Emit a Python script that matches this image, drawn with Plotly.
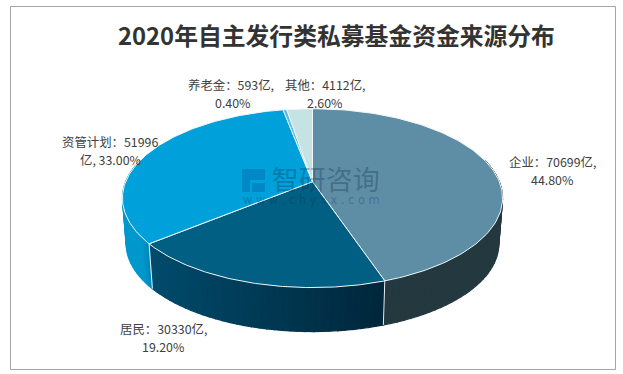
import numpy as np
import plotly.graph_objects as go

# Data
categories = ["企业", "居民", "资管计划", "养老金", "其他"]
values = [70699, 30330, 51996, 593, 4112]
percents = ["44.80%", "19.20%", "33.00%", "0.40%", "2.60%"]
title = "2020年自主发行类私募基金资金来源分布"

# Styles
top_colors = ["#5E8DA6", "#005F82", "#00A0DA", "#55BDE8", "#C5E3E2"]
side_left = ["#24393F", "#004B6C", "#0098CC", "#55BDE8", "#C5E3E2"]
side_right = ["#24393F", "#00263A", "#0084B4", "#55BDE8", "#C5E3E2"]
FONT = "Noto Sans CJK SC"
TXT = "#404040"

# Perspective projection of the pie, in pixel-sized axis units
CX, CY, A, B, K = 312.5, 181.7, 186.8, 86.4, 0.184
CY2, S = 227.8, 0.98


def project(theta, bottom=False):
    u, v = np.sin(theta), np.cos(theta)
    w = 1 + K * v
    x, y = A * u / w, -B * v / w
    if bottom:
        return CX + S * x, CY2 + S * y
    return CX + x, CY + y


def hexmix(c1, c2, t):
    a = [int(c1[i:i + 2], 16) for i in (1, 3, 5)]
    b = [int(c2[i:i + 2], 16) for i in (1, 3, 5)]
    return "#%02x%02x%02x" % tuple(round(p + (q - p) * t) for p, q in zip(a, b))


fig = go.Figure()
fractions = np.array(values) / sum(values)
edges = np.concatenate([[0], np.cumsum(fractions)]) * 2 * np.pi

# Side wall: thin strips, so it can carry the gradient
vis_lo, vis_hi = np.radians(75), np.radians(285)
for i in range(len(values)):
    lo, hi = max(edges[i], vis_lo), min(edges[i + 1], vis_hi)
    if hi <= lo:
        continue
    n = max(2, int(np.degrees(hi - lo) / 2))
    ts = np.linspace(lo, hi, n + 1)
    x0, x1 = project(hi)[0], project(lo)[0]
    for a_, b_ in zip(ts[:-1], ts[1:]):
        xa, ya = project(np.array([a_, b_]))
        xb, yb = project(np.array([b_, a_]), bottom=True)
        mx = (xa[0] + xa[1]) / 2
        t = float(np.clip((mx - x0) / (x1 - x0 + 1e-9), 0, 1))
        col = hexmix(side_left[i], side_right[i], t)
        fig.add_trace(go.Scatter(x=list(xa) + list(xb) + [xa[0]], y=list(ya) + list(yb) + [ya[0]],
                                 mode="lines", fill="toself", fillcolor=col,
                                 line=dict(color=col, width=1.2), hoverinfo="skip"))

# White seams on the wall at the slice boundaries that face the viewer
for e in edges[1:-1]:
    if vis_lo < e < vis_hi:
        xt, yt = project(e)
        xb, yb = project(e, bottom=True)
        fig.add_trace(go.Scatter(x=[xt, xb], y=[yt, yb], mode="lines",
                                 line=dict(color="#E8EEF0", width=1), hoverinfo="skip"))

# Top face
for i in range(len(values)):
    ts = np.linspace(edges[i], edges[i + 1], 120)
    xs, ys = project(ts)
    fig.add_trace(go.Scatter(x=[CX] + list(xs) + [CX], y=[CY] + list(ys) + [CY],
                             mode="lines", fill="toself", fillcolor=top_colors[i],
                             line=dict(color="#F2F6F8", width=1), hoverinfo="skip"))

# Labels: text built from the data, one annotation per line
label_lines = [
    (f"{categories[0]}：{values[0]}亿,", 552, 161.5), (percents[0], 552, 179.5),
    (f"{categories[1]}：{values[1]}亿,", 163, 329), (percents[1], 163, 347),
    (f"{categories[2]}：{values[2]}", 110, 142), (f"亿, {percents[2]}", 110, 160),
    (f"{categories[3]}：{values[3]}亿,", 231, 85), (percents[3], 233, 103),
    (f"{categories[4]}：{values[4]}亿,", 325, 85), (percents[4], 325, 103),
]
ann = [dict(x=x, y=y, text=t, showarrow=False, xanchor="center", yanchor="middle",
            font=dict(family=FONT, size=12.4, color=TXT)) for t, x, y in label_lines]

ann.append(dict(x=336, y=34, text=title, showarrow=False, xanchor="center", yanchor="middle",
                font=dict(family=FONT, size=23.8, color="#333333", weight=700)))

# Watermark
ann.append(dict(x=382, y=183, showarrow=False, xanchor="right", yanchor="middle", align="right",
                text=('<span style="font-size:27px">智研咨询</span><br>'
                      '<span style="font-size:11.4px;font-family:DejaVu Sans">w w w . c h y x x . c o m</span>'),
                font=dict(family=FONT, size=10.5, color="rgba(10,50,75,0.32)")))

shapes = [
    dict(type="rect", x0=10.5, y0=6.5, x1=615.5, y1=369.5,
         line=dict(color="#A6A6A6", width=1), layer="below"),
    dict(type="path", path="M242,169 L265,169 L265,180 L250,180 L250,192 L242,192 Z",
         fillcolor="rgba(0,90,160,0.35)", line_width=0, layer="above"),
    dict(type="rect", x0=252, y0=183, x1=265, y1=192,
         fillcolor="rgba(0,90,160,0.35)", line_width=0, layer="above"),
]

fig.update_layout(
    width=623, height=374, margin=dict(l=0, r=0, t=0, b=0),
    paper_bgcolor="white", plot_bgcolor="white", showlegend=False,
    hovermode=False, annotations=ann, shapes=shapes,
    xaxis=dict(range=[0, 623], visible=False, fixedrange=True),
    yaxis=dict(range=[374, 0], visible=False, fixedrange=True),
)
fig.write_html("out.html", config={"displayModeBar": False},
               post_script="document.body.style.margin='0';document.body.style.overflow='hidden';")
